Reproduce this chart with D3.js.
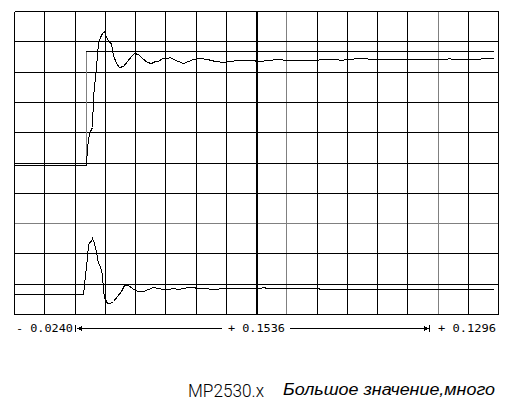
<!DOCTYPE html>
<html>
<head>
<meta charset="utf-8">
<script src="https://cdn.jsdelivr.net/npm/d3@7"></script>
<style>
  html, body { margin: 0; padding: 0; background: #fff; }
  svg { display: block; }
</style>
</head>
<body>
<svg width="522" height="406"></svg>
<script>
// grid is 16 x 10 divisions, values below are in divisions
const xDivs = d3.range(0, 17);
const yDivs = d3.range(0, 11);
const centerDiv = 8;
const cursorXs = [9, 14];
const cursorYs = [3];

// reference step
const stepX = [0, 2.38, 2.38, 15.84];
const stepY = [4.97, 4.97, 8.67, 8.67];

// response of the upper channel
const respX = [0, 2.38, 2.42, 2.49, 2.57, 2.62, 2.70, 2.77, 2.84, 2.90, 2.98, 3.04, 3.13, 3.21, 3.28, 3.37,
  3.48, 3.59, 3.73, 3.86, 3.98, 4.09, 4.22, 4.39, 4.52, 4.66, 4.77, 4.88, 5.05, 5.16, 5.27, 5.43,
  5.60, 5.76, 5.93, 6.15, 6.37, 6.64, 6.92, 7.14, 7.36, 7.91, 8.02, 8.13, 8.35, 8.74, 9.01, 10.06,
  10.09, 10.72, 10.74, 11.40, 11.66, 11.69, 14.30, 14.36, 14.50, 15.40, 15.43, 15.84];
const respY = [4.91, 4.91, 5.51, 5.97, 6.17, 7.16, 8.15, 8.94, 9.14, 9.27, 9.34, 9.14, 8.99, 8.94, 8.55, 8.28,
  8.16, 8.18, 8.35, 8.51, 8.60, 8.58, 8.44, 8.33, 8.29, 8.35, 8.35, 8.44, 8.46, 8.49, 8.41, 8.35,
  8.29, 8.35, 8.41, 8.44, 8.41, 8.35, 8.33, 8.35, 8.38, 8.38, 8.35, 8.35, 8.38, 8.41, 8.38, 8.38,
  8.42, 8.41, 8.37, 8.44, 8.44, 8.41, 8.41, 8.44, 8.41, 8.41, 8.44, 8.44];

// lower channel (error)
const errX = [0, 2.29, 2.35, 2.40, 2.44, 2.49, 2.55, 2.59, 2.64, 2.71, 2.79, 2.84, 2.90, 2.93, 2.98, 3.06,
  3.17, 3.26, 3.40, 3.53, 3.64, 3.78, 3.89, 4.06, 4.27, 4.44, 4.60, 4.77, 4.94, 5.10, 5.27, 5.43,
  5.60, 5.76, 5.93, 6.04, 6.15, 6.70, 6.81, 7.36, 7.91, 8.13, 8.24, 8.35, 10.09, 10.09, 15.84];
const errY = [0.66, 0.65, 1.29, 1.89, 2.28, 2.39, 2.41, 2.52, 2.33, 2.06, 1.67, 1.59, 1.29, 0.79, 0.57, 0.37,
  0.35, 0.43, 0.59, 0.76, 0.95, 0.95, 0.85, 0.76, 0.76, 0.82, 0.89, 0.87, 0.82, 0.82, 0.85, 0.82,
  0.87, 0.90, 0.89, 0.87, 0.85, 0.82, 0.87, 0.87, 0.85, 0.85, 0.88, 0.85, 0.85, 0.82, 0.82];

const axisLabels = ["- 0.0240", "+ 0.1536", "+ 0.1296"];
const markerDivs = [2, 13.72];
const title = "MP2530.x";
const subtitle = "Большое значение,много";

const svg = d3.select("svg");

const x = d3.scaleLinear().domain([0, 16]).range([14.5, 498.5]);
const y = d3.scaleLinear().domain([0, 10]).range([314.5, 11.5]);
// snap to pixel centres
const px = v => Math.floor(v) + 0.5;

const grid = svg.append("g").attr("shape-rendering", "crispEdges");

// grey cursor lines go underneath the black grid
grid.selectAll(".cy")
  .data(cursorYs)
  .enter()
  .append("line")
  .attr("y1", d => px(y(d))).attr("y2", d => px(y(d)))
  .attr("x1", px(x(0))).attr("x2", px(x(16)))
  .attr("stroke", "#808080");

grid.selectAll(".cx")
  .data(cursorXs)
  .enter()
  .append("line")
  .attr("x1", d => px(x(d))).attr("x2", d => px(x(d)))
  .attr("y1", px(y(0))).attr("y2", px(y(10)))
  .attr("stroke", "#808080");

grid.selectAll(".hl")
  .data(yDivs.filter(d => !cursorYs.includes(d)))
  .enter()
  .append("line")
  .attr("y1", d => px(y(d))).attr("y2", d => px(y(d)))
  .attr("x1", px(x(0))).attr("x2", px(x(16)))
  .attr("stroke", "#000")
  .attr("stroke-width", 1);

grid.selectAll(".vl")
  .data(xDivs.filter(d => !cursorXs.includes(d)))
  .enter()
  .append("line")
  .attr("x1", d => d === centerDiv ? px(x(d)) + 0.5 : px(x(d)))
  .attr("x2", d => d === centerDiv ? px(x(d)) + 0.5 : px(x(d)))
  .attr("y1", px(y(0))).attr("y2", px(y(10)))
  .attr("stroke", "#000")
  .attr("stroke-width", d => d === centerDiv ? 2 : 1);

const line = d3.line().x(d => px(x(d[0]))).y(d => px(y(d[1])));
const traces = svg.append("g").attr("shape-rendering", "crispEdges").attr("fill", "none");

traces.append("path")
  .datum(d3.zip(stepX, stepY))
  .attr("d", line)
  .attr("stroke", "#000")
  .attr("stroke-width", 1);

// the rising edge of the step is drawn grey
traces.append("line")
  .attr("x1", px(x(stepX[1]))).attr("x2", px(x(stepX[2])))
  .attr("y1", px(y(stepY[1]))).attr("y2", px(y(stepY[2])))
  .attr("stroke", "#808080")
  .attr("stroke-width", 1);

traces.append("path")
  .datum(d3.zip(respX, respY))
  .attr("d", line)
  .attr("stroke", "#000")
  .attr("stroke-width", 1);

traces.append("path")
  .datum(d3.zip(errX, errY))
  .attr("d", line)
  .attr("stroke", "#000")
  .attr("stroke-width", 1);

// bottom scale line with markers
const axY = 328.5;
const mono = "'DejaVu Sans Mono', monospace";
const labelPos = [[16, "start", 57], [256.5, "middle", 57], [438, "start", 58]];

svg.selectAll(".axlab")
  .data(axisLabels)
  .enter()
  .append("text")
  .attr("x", (d, i) => labelPos[i][0])
  .attr("y", 331.5)
  .attr("text-anchor", (d, i) => labelPos[i][1])
  .attr("textLength", (d, i) => labelPos[i][2])
  .attr("lengthAdjust", "spacingAndGlyphs")
  .attr("font-family", mono)
  .attr("font-size", 10.5)
  .attr("fill", "#000")
  .text(d => d);

const mL = px(x(markerDivs[0])), mR = px(x(markerDivs[1]));
const ax = svg.append("g").attr("stroke", "#000").attr("fill", "#000").attr("shape-rendering", "crispEdges");
ax.append("line").attr("x1", mL).attr("x2", mL).attr("y1", axY - 3.5).attr("y2", axY + 3.5);
ax.append("path").attr("d", `M${mL + 1},${axY} L${mL + 6},${axY - 2.5} L${mL + 6},${axY + 2.5} Z`).attr("stroke", "none");
ax.append("line").attr("x1", mL + 5).attr("x2", 222).attr("y1", axY).attr("y2", axY);
ax.append("line").attr("x1", 290).attr("x2", mR - 5).attr("y1", axY).attr("y2", axY);
ax.append("path").attr("d", `M${mR - 1},${axY} L${mR - 6},${axY - 2.5} L${mR - 6},${axY + 2.5} Z`).attr("stroke", "none");
ax.append("line").attr("x1", mR).attr("x2", mR).attr("y1", axY - 3.5).attr("y2", axY + 3.5);

svg.append("text")
  .attr("x", 188).attr("y", 396.5)
  .attr("textLength", 76).attr("lengthAdjust", "spacingAndGlyphs")
  .attr("font-family", "Roboto, sans-serif")
  .attr("font-weight", 300)
  .attr("font-size", 19)
  .attr("fill", "#000")
  .text(title);

svg.append("text")
  .attr("x", 283).attr("y", 394.5)
  .attr("textLength", 212).attr("lengthAdjust", "spacingAndGlyphs")
  .attr("font-family", "'Liberation Sans', Arial, sans-serif")
  .attr("font-style", "italic")
  .attr("font-size", 16)
  .attr("fill", "#000")
  .text(subtitle);
</script>
</body>
</html>
